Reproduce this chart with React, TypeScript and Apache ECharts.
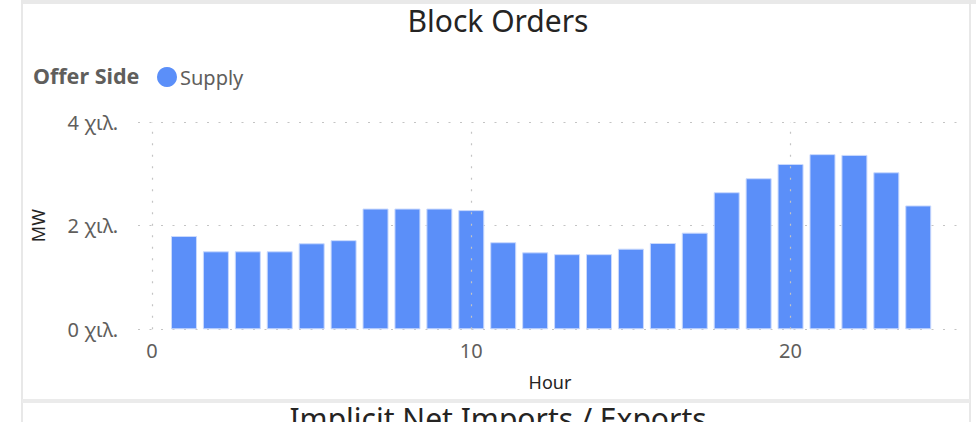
import React, { useEffect, useRef } from "react";
import * as echarts from "echarts";

const hours = [1, 2, 3, 4, 5, 6, 7, 8, 9, 10, 11, 12, 13, 14, 15, 16, 17, 18, 19, 20, 21, 22, 23, 24];
const supplyMW = [1800, 1505, 1505, 1505, 1660, 1720, 2330, 2330, 2330, 2300, 1680, 1485, 1450, 1450, 1556, 1665, 1865, 2645, 2915, 3190, 3380, 3365, 3030, 2390];
const xGridValues = [0, 10, 20];
const yTicks = [0, 2000, 4000];

const FONT = "'Noto Sans', 'Open Sans', sans-serif";
const GRID_COLOR = "#c4c4c4";
const DOTS: number[] = [2, 9.5];

export default function App() {
  const ref = useRef<HTMLDivElement>(null);
  useEffect(() => {
    if (!ref.current) return;
    const chart = echarts.init(ref.current, undefined, { renderer: "svg" });
    const option: any = {
      animation: false,
      backgroundColor: "#ffffff",
      textStyle: { fontFamily: FONT },
      grid: { left: 138, right: 16, top: 122, bottom: 92.7, containLabel: false },
      legend: {
        show: true,
        left: 152,
        top: 62,
        icon: "circle",
        itemWidth: 20,
        itemHeight: 20,
        itemStyle: { borderWidth: 0 },
        textStyle: { fontFamily: FONT, fontSize: 20, color: "#605E5C", padding: [0, 0, 0, -2] },
        data: ["Supply"],
      },
      xAxis: {
        type: "value",
        min: -0.44,
        max: 25.37,
        splitNumber: 3,
        axisLine: { show: false },
        axisTick: { show: false },
        splitLine: { show: false },
        axisLabel: {
          margin: 11,
          fontSize: 20,
          color: "#605E5C",
          fontFamily: FONT,
          formatter: (v: number) => (xGridValues.indexOf(v) >= 0 ? String(v) : ""),
        },
        name: "Hour",
        nameLocation: "middle",
        nameGap: 44,
        nameTextStyle: { fontSize: 18, color: "#252423", fontFamily: FONT },
      },
      yAxis: {
        type: "value",
        min: yTicks[0],
        max: yTicks[yTicks.length - 1],
        interval: 2000,
        axisLine: { show: false, onZero: false },
        axisTick: { show: false },
        splitLine: { show: true, lineStyle: { color: GRID_COLOR, type: DOTS, width: 1.2 } },
        axisLabel: {
          margin: 20,
          fontSize: 20,
          color: "#605E5C",
          fontFamily: FONT,
          formatter: (v: number) => `${v / 1000} χιλ.`,
        },
        name: "MW",
        nameLocation: "middle",
        nameRotate: 90,
        nameGap: 91,
        nameTextStyle: { fontSize: 18, color: "#252423", fontFamily: FONT },
      },
      graphic: [
        { type: "rect", silent: true, shape: { x: 22, y: 0, width: 954, height: 4 }, style: { fill: "#e9e9e9" } },
        { type: "rect", silent: true, shape: { x: 21, y: 0, width: 2, height: 422 }, style: { fill: "#e8e8e8" } },
        { type: "rect", silent: true, shape: { x: 969, y: 0, width: 2, height: 422 }, style: { fill: "#e8e8e8" } },
        { type: "rect", silent: true, shape: { x: 22, y: 399, width: 948, height: 4 }, style: { fill: "#ebebeb" } },
        {
          type: "text",
          silent: true,
          x: 498,
          y: 5,
          style: { text: "Block Orders", fontSize: 30, fontFamily: FONT, fill: "#252423", textAlign: "center" },
        },
        {
          type: "text",
          silent: true,
          x: 498,
          y: 403,
          style: { text: "Implicit Net Imports / Exports", fontSize: 30, fontFamily: FONT, fill: "#252423", textAlign: "center" },
        },
        {
          type: "text",
          silent: true,
          x: 33,
          y: 64,
          style: { text: "Offer Side", fontSize: 21.5, fontWeight: "bold", fontFamily: FONT, fill: "#605E5C" },
        },
      ],
      series: [
        {
          type: "line",
          name: "grid",
          data: [],
          z: 1,
          silent: true,
          markLine: {
            silent: true,
            symbol: "none",
            label: { show: false },
            lineStyle: { color: GRID_COLOR, type: DOTS, width: 1.2 },
            data: xGridValues.map((v) => ({ xAxis: v })),
          },
        },
        {
          type: "bar",
          name: "Supply",
          z: 3,
          barWidth: 26,
          itemStyle: { color: "#5B8FF9", borderColor: "#c9d9fd", borderWidth: 1 },
          data: hours.map((h, i) => [h, supplyMW[i]]),
        },
      ],
    };
    chart.setOption(option);
    return () => chart.dispose();
  }, []);
  return (
    <div
      ref={ref}
      style={{ position: "absolute", left: 0, top: 0, width: 978, height: 422, background: "#fff" }}
    />
  );
}
